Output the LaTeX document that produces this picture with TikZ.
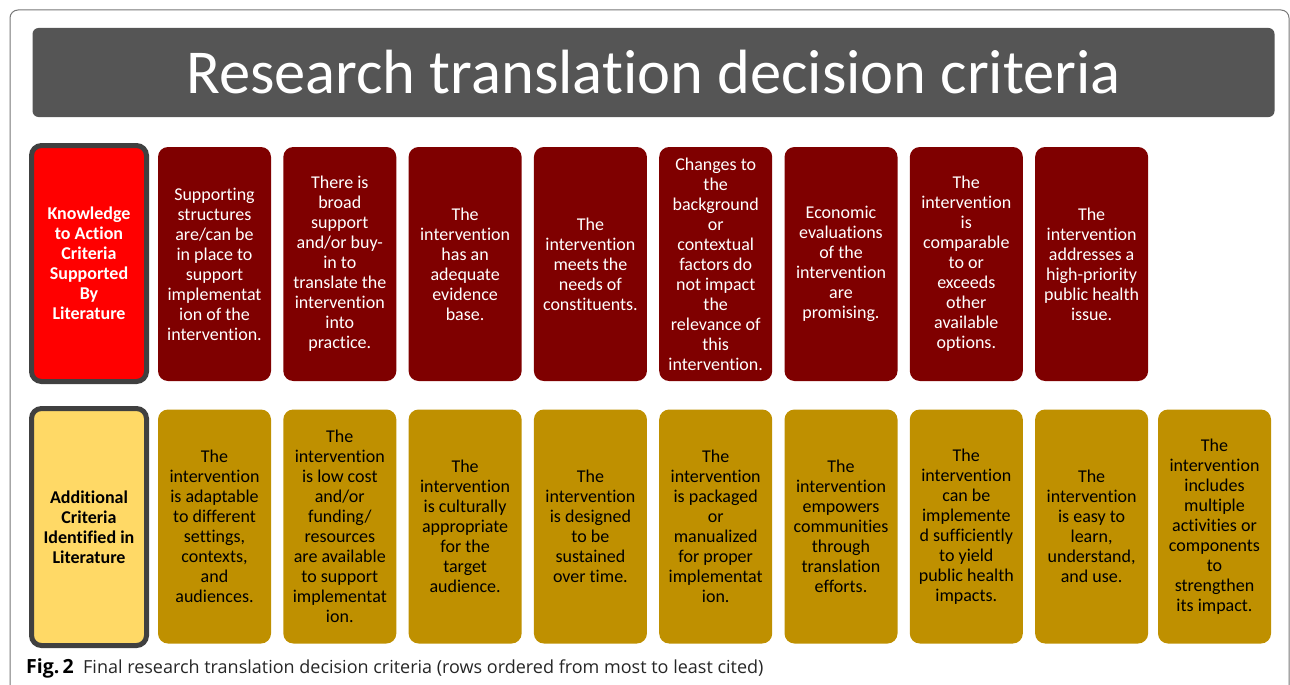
\documentclass[tikz,border=0pt]{standalone}
\usepackage{fontspec}
\setmainfont{Carlito}[Ligatures=NoCommon]
\newfontfamily\capfont{Open Sans}
\usepackage{tikz}

\definecolor{titlegray}{HTML}{555555}
\definecolor{maroon}{HTML}{7F0000}
\definecolor{brightred}{HTML}{FF0000}
\definecolor{gold}{HTML}{BF9000}
\definecolor{paleyellow}{HTML}{FFD966}
\definecolor{rimgray}{HTML}{404040}
\definecolor{framegray}{HTML}{777777}

\begin{document}
\begin{tikzpicture}[x=1pt,y=-1pt,
  crit/.style={rounded corners=10pt, minimum width=113pt, minimum height=234pt,
    inner sep=0pt, align=center, font=\fontsize{18}{20}\selectfont},
  kta/.style={crit, fill=maroon, text=white},
  add/.style={crit, fill=gold, text=black},
  head/.style={crit, draw=rimgray, line width=5pt, minimum width=115pt,
    minimum height=236pt, font=\bfseries\fontsize{18}{20}\selectfont}]
\useasboundingbox (0,0) rectangle (1290,685);
\clip (0,0) rectangle (1290,685);
\draw[framegray, line width=1pt, rounded corners=8pt] (10,10) rectangle (1289,720);

\node[fill=titlegray, rounded corners=6pt, minimum width=1242pt, minimum height=89pt,
  text=white, font=\fontsize{62.5}{72}\selectfont] (title) at (653.5,72.5)
  {Research translation decision criteria};

\node[head, fill=brightred, text=white] (know) at (89,263.5)
  {Knowledge\\to Action\\Criteria\\Supported\\By\\Literature};
\node[kta] (k1) at (214.5,264) {Supporting\\structures\\are/can be\\in place to\\support\\implementat\\ion of the\\intervention.};
\node[kta] (k2) at (339.8,264) {There is\\broad\\support\\and/or buy-\\in to\\translate the\\intervention\\into\\practice.};
\node[kta] (k3) at (465.1,264) {The\\intervention\\has an\\adequate\\evidence\\base.};
\node[kta] (k4) at (590.4,264) {The\\intervention\\meets the\\needs of\\constituents.};
\node[kta] (k5) at (715.7,264) {Changes to\\the\\background\\or\\contextual\\factors do\\not impact\\the\\relevance of\\this\\intervention.};
\node[kta] (k6) at (841,264) {Economic\\evaluations\\of the\\intervention\\are\\promising.};
\node[kta] (k7) at (966.3,264) {The\\intervention\\is\\comparable\\to or\\exceeds\\other\\available\\options.};
\node[kta] (k8) at (1091.6,264) {The\\intervention\\addresses a\\high-priority\\public health\\issue.};

\node[head, fill=paleyellow, text=black, minimum height=237pt] (addl) at (89,527)
  {Additional\\Criteria\\Identified in\\Literature};
\node[add] (a1) at (214.5,526.5) {The\\intervention\\is adaptable\\to different\\settings,\\contexts,\\and\\audiences.};
\node[add] (a2) at (339.8,526.5) {The\\intervention\\is low cost\\and/or\\funding/\\resources\\are available\\to support\\implementat\\ion.};
\node[add] (a3) at (465.1,526.5) {The\\intervention\\is culturally\\appropriate\\for the\\target\\audience.};
\node[add] (a4) at (590.4,526.5) {The\\intervention\\is designed\\to be\\sustained\\over time.};
\node[add] (a5) at (715.7,526.5) {The\\intervention\\is packaged\\or\\manualized\\for proper\\implementat\\ion.};
\node[add] (a6) at (841,526.5) {The\\intervention\\empowers\\communities\\through\\translation\\efforts.};
\node[add] (a7) at (966.3,526.5) {The\\intervention\\can be\\implemente\\d sufficiently\\to yield\\public health\\impacts.};
\node[add] (a8) at (1091.6,526.5) {The\\intervention\\is easy to\\learn,\\understand,\\and use.};
\node[add] (a9) at (1214.5,526.5) {The\\intervention\\includes\\multiple\\activities or\\components\\to\\strengthen\\its impact.};

\node[anchor=base west, inner sep=0pt, text=black!85, font=\capfont\fontsize{18}{20}\selectfont]
  (cap) at (26,673) {\textcolor{black}{\bfseries\fontsize{19.5}{20}\selectfont Fig.\,2}\ \ Final research translation decision criteria (rows ordered from most to least cited)};
\end{tikzpicture}
\end{document}
